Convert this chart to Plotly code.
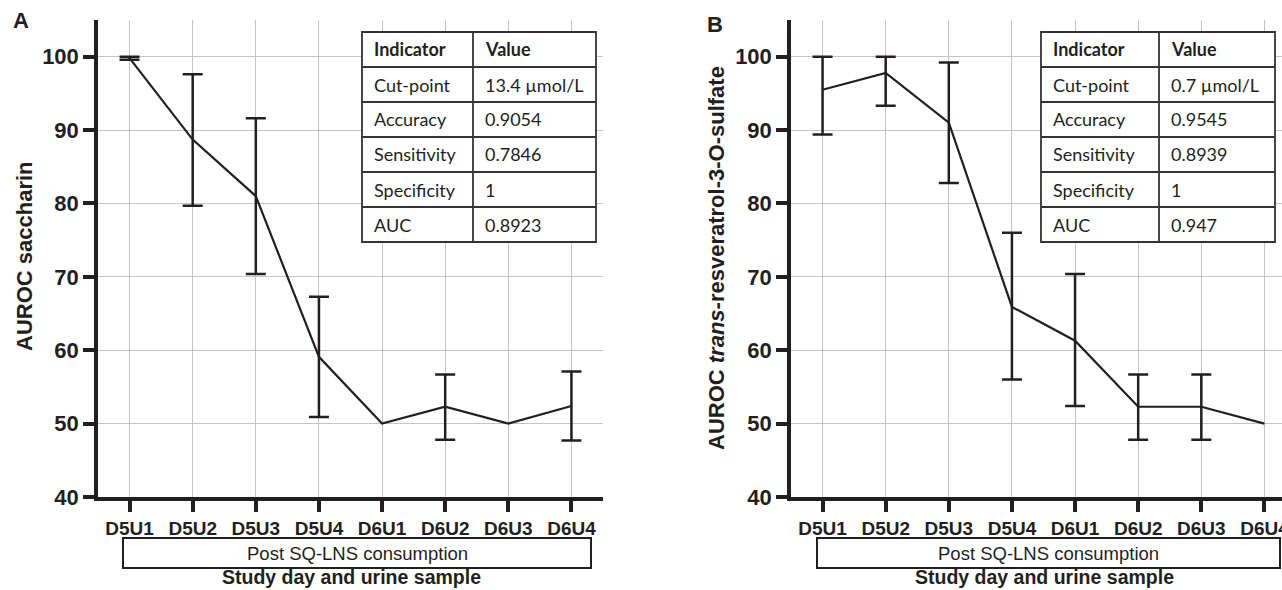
import plotly.graph_objects as go

W, H = 1282, 590

categories = ["D5U1", "D5U2", "D5U3", "D5U4", "D6U1", "D6U2", "D6U3", "D6U4"]

# Panel A: saccharin
auroc_a = [99.8, 88.7, 81.0, 59.1, 50.0, 52.3, 50.0, 52.4]
upper_a = [100.0, 97.6, 91.6, 67.3, None, 56.7, None, 57.1]
lower_a = [99.6, 79.7, 70.4, 50.9, None, 47.8, None, 47.7]

# Panel B: trans-resveratrol-3-O-sulfate
auroc_b = [95.5, 97.8, 91.0, 65.9, 61.3, 52.3, 52.3, 50.0]
upper_b = [100.0, 100.0, 99.2, 76.0, 70.4, 56.7, 56.7, None]
lower_b = [89.4, 93.3, 82.8, 56.0, 52.4, 47.8, 47.8, None]

y_ticks = [40, 50, 60, 70, 80, 90, 100]

table_header = ["Indicator", "Value"]
table_indicators = ["Cut-point", "Accuracy", "Sensitivity", "Specificity", "AUC"]
table_values_a = ["13.4 µmol/L", "0.9054", "0.7846", "1", "0.8923"]
table_values_b = ["0.7 µmol/L", "0.9545", "0.8939", "1", "0.947"]

ytitle_a = "AUROC saccharin"
ytitle_b = "AUROC <i>trans</i>-resveratrol-3-O-sulfate"
xtitle = "Study day and urine sample"
box_text = "Post SQ-LNS consumption"

INK = "#231f20"
GRID = "#c4c4c4"


def px(x):
    return x / W


def py(y):
    return 1 - y / H


fig = go.Figure()
for vals, up, lo, xa, ya in [(auroc_a, upper_a, lower_a, "x", "y"),
                             (auroc_b, upper_b, lower_b, "x2", "y2")]:
    fig.add_trace(go.Scatter(
        x=categories, y=vals, mode="lines", xaxis=xa, yaxis=ya,
        line=dict(color=INK, width=2.2), showlegend=False, hoverinfo="x+y"))
    idx = [i for i, u in enumerate(up) if u is not None]
    fig.add_trace(go.Scatter(
        x=[categories[i] for i in idx], y=[vals[i] for i in idx],
        mode="markers", marker=dict(size=1, opacity=0), xaxis=xa, yaxis=ya,
        error_y=dict(type="data", symmetric=False,
                     array=[up[i] - vals[i] for i in idx],
                     arrayminus=[vals[i] - lo[i] for i in idx],
                     color=INK, thickness=2.5, width=10),
        showlegend=False, hoverinfo="skip"))

tickfont_y = dict(family="Liberation Sans, Arial", size=22, color=INK, weight="bold")
tickfont_x = dict(family="Liberation Sans, Arial", size=19, color=INK, weight="bold")

ax_common = dict(showline=True, linecolor=INK, linewidth=3.5, ticks="outside",
                 ticklen=11, tickwidth=3.5, tickcolor=INK, showgrid=True,
                 gridcolor=GRID, gridwidth=1, zeroline=False, fixedrange=True,
                 automargin=False)

unit = (603 - 98) / 8.0
fig.update_layout(
    width=W, height=H, autosize=False, margin=dict(l=0, r=0, t=0, b=0, pad=0),
    paper_bgcolor="white", plot_bgcolor="white",
    xaxis=dict(domain=[px(98), px(603)], type="category", range=[-0.5, 7.5],
               anchor="y", tickfont=tickfont_x, **ax_common),
    yaxis=dict(domain=[py(497), py(20)], range=[40, 105], tickvals=y_ticks,
               anchor="x", tickfont=tickfont_y, **ax_common),
    xaxis2=dict(domain=[px(791), 1.0], type="category",
                range=[-0.5, -0.5 + (W - 791) / unit],
                anchor="y2", tickfont=tickfont_x, **ax_common),
    yaxis2=dict(domain=[py(497), py(20)], range=[40, 105], tickvals=y_ticks,
                anchor="x2", tickfont=tickfont_y, **ax_common),
)

shapes = []
annotations = []

# Panel letters
for letter, x, y in [("A", 21, 21), ("B", 715, 24)]:
    annotations.append(dict(text=letter, x=px(x), y=py(y), xref="paper", yref="paper",
                            showarrow=False, xanchor="center", yanchor="middle",
                            font=dict(family="Liberation Sans, Arial", size=22,
                                      color=INK, weight="bold")))

# Y titles
for t, x, y in [(ytitle_a, 24, 256), (ytitle_b, 716, 258)]:
    annotations.append(dict(text=t, x=px(x), y=py(y), xref="paper", yref="paper",
                            showarrow=False, textangle=-90, xanchor="center",
                            yanchor="middle",
                            font=dict(family="Liberation Sans, Arial", size=22,
                                      color=INK, weight="bold")))

# Post SQ-LNS boxes and x titles
for x0, x1, xt in [(123, 591, 351), (817, 1280, 1044)]:
    shapes.append(dict(type="rect", xref="paper", yref="paper", x0=px(x0), x1=px(x1),
                       y0=py(568), y1=py(538), line=dict(color=INK, width=2),
                       fillcolor="white"))
    annotations.append(dict(text=box_text, x=px((x0 + x1) / 2), y=py(553),
                            xref="paper", yref="paper", showarrow=False,
                            xanchor="center", yanchor="middle",
                            font=dict(family="Liberation Sans, Arial", size=18.5, color=INK)))
    annotations.append(dict(text=xtitle, x=px(xt), y=py(590), xref="paper", yref="paper",
                            showarrow=False, xanchor="center", yanchor="bottom",
                            font=dict(family="Liberation Sans, Arial", size=19.5,
                                      color=INK, weight="bold")))

# Tables
row_h = 35
for left, mid, right, values in [(362, 473, 596, table_values_a),
                                 (1041, 1159, 1275, table_values_b)]:
    top = 32
    nrows = 1 + len(table_indicators)
    bottom = top + nrows * row_h
    shapes.append(dict(type="rect", xref="paper", yref="paper", x0=px(left), x1=px(right),
                       y0=py(bottom), y1=py(top), line=dict(color="#333333", width=1.8),
                       fillcolor="white"))
    shapes.append(dict(type="line", xref="paper", yref="paper", x0=px(mid), x1=px(mid),
                       y0=py(bottom), y1=py(top), line=dict(color="#333333", width=1.8)))
    for r in range(1, nrows):
        yy = top + r * row_h
        shapes.append(dict(type="line", xref="paper", yref="paper", x0=px(left),
                           x1=px(right), y0=py(yy), y1=py(yy),
                           line=dict(color="#333333", width=1.8)))
    rows = [table_header] + [[a, b] for a, b in zip(table_indicators, values)]
    for r, (c1, c2) in enumerate(rows):
        yc = top + r * row_h + row_h / 2
        bold = "bold" if r == 0 else "normal"
        for txt, xl in [(c1, left + 10), (c2, mid + 10)]:
            annotations.append(dict(text=txt, x=px(xl), y=py(yc), xref="paper",
                                    yref="paper", showarrow=False, xanchor="left",
                                    yanchor="middle",
                                    font=dict(family="Lato, Carlito, Open Sans", size=18,
                                              color="#231f20", weight=bold)))

fig.update_layout(shapes=shapes, annotations=annotations)
post = ("document.documentElement.style.overflow='hidden';"
        "document.body.style.margin='0';document.body.style.padding='0';"
        "document.body.style.overflow='hidden';")
fig.write_html("out.html", config={"displayModeBar": False}, post_script=post)
